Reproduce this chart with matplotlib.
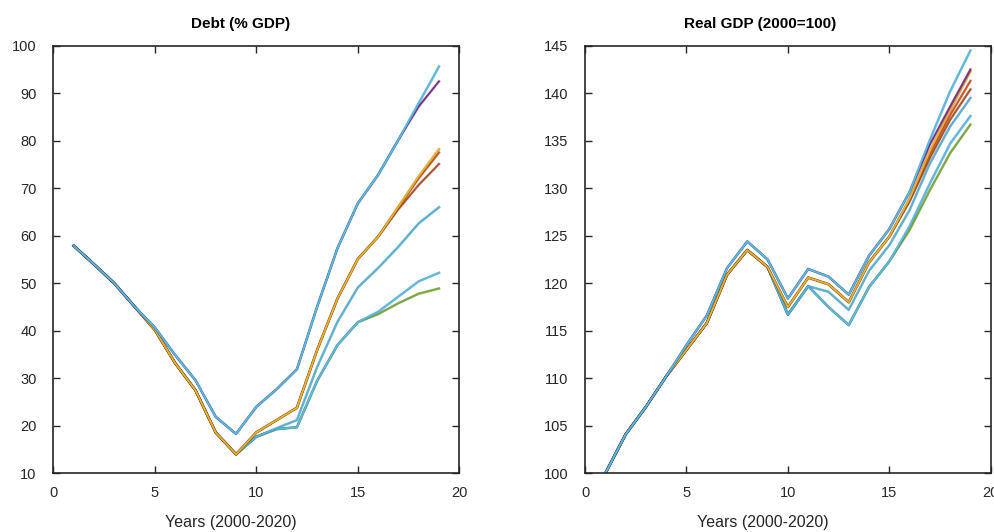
import matplotlib
matplotlib.use('Agg')
import matplotlib.pyplot as plt
import matplotlib.patheffects as pe
import numpy as np

years = np.arange(1, 20)

# Debt (% GDP), one list per scenario
debt_top    = [57.9, 54.0, 50.0, 45.1, 40.7, 34.9, 29.6, 21.9, 18.3, 24.0, 27.7, 31.9, 45.1, 57.4, 66.8, 72.8, 80.2, 87.9, 95.6]
debt_purple = [57.9, 54.0, 50.0, 45.1, 40.7, 34.9, 29.6, 21.9, 18.3, 24.0, 27.7, 31.9, 45.1, 57.4, 66.8, 72.8, 80.2, 87.2, 92.5]
debt_yellow = [57.9, 54.0, 50.0, 45.1, 40.2, 33.2, 27.5, 18.6, 14.0, 18.6, 21.2, 23.8, 36.0, 46.8, 55.1, 59.8, 66.1, 72.5, 78.2]
debt_orange = [57.9, 54.0, 50.0, 45.1, 40.2, 33.2, 27.5, 18.6, 14.0, 18.6, 21.2, 23.8, 36.0, 46.8, 55.1, 59.8, 66.0, 72.1, 77.5]
debt_brown  = [57.9, 54.0, 50.0, 45.1, 40.2, 33.2, 27.5, 18.6, 14.0, 18.6, 21.2, 23.8, 36.0, 46.8, 55.1, 59.8, 65.6, 70.7, 75.1]
debt_mid    = [57.9, 54.0, 50.0, 45.1, 40.2, 33.2, 27.5, 18.6, 14.0, 17.7, 19.5, 21.2, 32.4, 41.9, 49.1, 53.2, 57.7, 62.6, 66.0]
debt_lblue  = [57.9, 54.0, 50.0, 45.1, 40.2, 33.2, 27.5, 18.6, 14.0, 17.7, 19.3, 19.7, 29.5, 37.0, 41.8, 44.0, 47.2, 50.4, 52.2]
debt_green  = [57.9, 54.0, 50.0, 45.1, 40.2, 33.2, 27.5, 18.6, 14.0, 17.7, 19.3, 19.7, 29.5, 37.0, 41.8, 43.5, 45.8, 47.8, 48.9]

# Real GDP (2000=100)
gdp_top    = [100.0, 104.1, 107.0, 110.2, 113.5, 116.6, 121.6, 124.4, 122.5, 118.4, 121.5, 120.7, 118.8, 122.9, 125.7, 129.6, 135.1, 140.2, 144.5]
gdp_purple = [100.0, 104.1, 107.0, 110.2, 113.5, 116.6, 121.6, 124.4, 122.5, 118.4, 121.5, 120.7, 118.8, 122.9, 125.7, 129.6, 134.6, 138.6, 142.5]
gdp_yellow = [100.0, 104.1, 107.0, 110.2, 113.0, 115.8, 120.9, 123.5, 121.7, 117.5, 120.6, 119.9, 118.0, 122.2, 124.9, 128.9, 133.9, 138.2, 142.3]
gdp_orange = [100.0, 104.1, 107.0, 110.2, 113.0, 115.8, 120.9, 123.5, 121.7, 117.5, 120.6, 119.9, 118.0, 122.2, 124.9, 128.8, 133.6, 137.7, 141.3]
gdp_brown  = [100.0, 104.1, 107.0, 110.2, 113.0, 115.8, 120.9, 123.5, 121.7, 117.5, 120.6, 119.9, 118.0, 122.2, 124.9, 128.6, 133.2, 137.2, 140.4]
gdp_mid    = [100.0, 104.1, 107.0, 110.2, 113.0, 115.8, 120.9, 123.5, 121.7, 116.7, 119.7, 119.1, 117.2, 121.3, 124.0, 127.7, 132.6, 136.5, 139.5]
gdp_lblue  = [100.0, 104.1, 107.0, 110.2, 113.0, 115.8, 120.9, 123.5, 121.7, 116.7, 119.7, 117.5, 115.6, 119.6, 122.3, 126.0, 130.5, 134.7, 137.6]
gdp_green  = [100.0, 104.1, 107.0, 110.2, 113.0, 115.8, 120.9, 123.5, 121.7, 116.7, 119.7, 117.5, 115.6, 119.6, 122.3, 125.6, 129.8, 133.7, 136.7]

colors = ['#77AC30', '#4DBEEE', '#4DB6DA', '#B8502A', '#D95319', '#EDB120', '#7E2F8E', '#4DBEEE']
debt = [debt_green, debt_lblue, debt_mid, debt_brown, debt_orange, debt_yellow, debt_purple, debt_top]
gdp = [gdp_green, gdp_lblue, gdp_mid, gdp_brown, gdp_orange, gdp_yellow, gdp_purple, gdp_top]

plt.rcParams['font.family'] = ['Liberation Sans', 'DejaVu Sans']

fig = plt.figure(figsize=(9.95, 5.32), dpi=100)
ax1 = fig.add_axes([0.0536, 0.1103, 0.408, 0.8038])
ax2 = fig.add_axes([0.588, 0.1103, 0.4077, 0.8038])

edge = [pe.Stroke(linewidth=1.9, foreground='#3a3a3a', alpha=0.35), pe.Normal()]


def setup(ax, series, title, title_x, ylim, yticks):
    for s, c in zip(series, colors):
        ax.plot(years, s, color=c, linewidth=1.3, path_effects=edge)
    ax.set_xlim(0, 20)
    ax.set_ylim(*ylim)
    ax.set_xticks([0, 5, 10, 15, 20])
    ax.set_yticks(yticks)
    ax.tick_params(direction='in', top=True, right=True, length=5, width=1,
                   colors='#262626', labelsize=10.5)
    ax.tick_params(axis='y', pad=12)
    ax.tick_params(axis='x', pad=9)
    for sp in ax.spines.values():
        sp.set_color('#262626')
        sp.set_linewidth(1.2)
    ax.text(title_x, 1.05, title, transform=ax.transAxes, ha='center', va='center',
            fontweight='bold', fontsize=11)
    ax.set_xlabel('Years (2000-2020)', fontsize=11.5, color='#262626')
    ax.xaxis.set_label_coords(0.438, -0.097)


setup(ax1, debt, 'Debt (% GDP)', 0.46, (10, 100), range(10, 101, 10))
setup(ax2, gdp, 'Real GDP (2000=100)', 0.432, (100, 145), range(100, 146, 5))

fig.savefig('out.png', dpi=100)
